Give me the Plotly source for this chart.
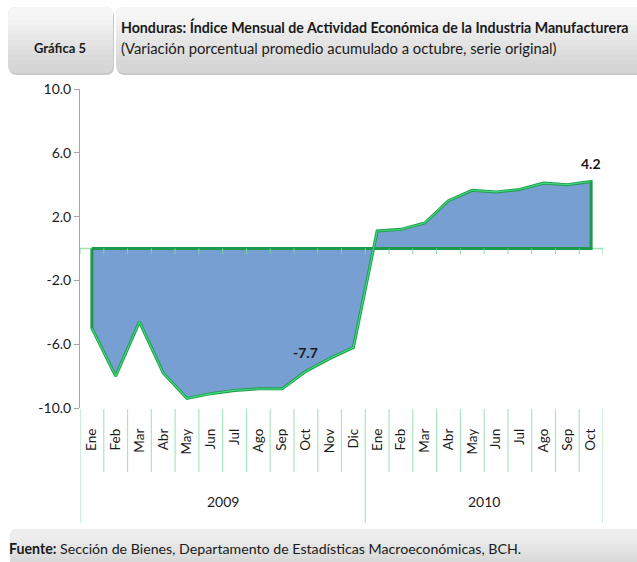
import plotly.graph_objects as go

# ---------------- data ----------------
months = ["Ene", "Feb", "Mar", "Abr", "May", "Jun", "Jul", "Ago", "Sep", "Oct", "Nov", "Dic",
          "Ene", "Feb", "Mar", "Abr", "May", "Jun", "Jul", "Ago", "Sep", "Oct"]
years = ["2009", "2010"]
months_per_year = [12, 10]
values = [-5.0, -8.0, -4.6, -7.8, -9.4, -9.1, -8.9, -8.8, -8.8, -7.7, -6.9, -6.2,
          1.1, 1.2, 1.6, 3.0, 3.65, 3.55, 3.7, 4.1, 4.0, 4.2]
y_ticks = [10, 6, 2, -2, -6, -10]
y_ticktext = ["10.0", "6.0", "2.0", "-2.0", "-6.0", "-10.0"]
labelled_points = [9, 21]  # indices with data labels

title1 = "Honduras: Índice Mensual de Actividad Económica de la Industria Manufacturera"
title2 = "(Variación porcentual promedio acumulado a octubre, serie original)"
badge = "Gráfica 5"
source_bold = "Fuente:"
source_text = " Sección de Bienes, Departamento de Estadísticas Macroeconómicas, BCH."

# ---------------- layout helpers ----------------
W, H = 637, 562
L, R, T, B = 80, 34, 89, 154
PW, PH = W - L - R, H - T - B


def X(px):
    return (px - L) / PW


def Y(py):
    return (H - B - py) / PH


FONT = "Lato, Liberation Sans, sans-serif"
TXT = "#1A1A1A"
xs = list(range(len(months)))
n = len(xs)

# polygon for area (data plus baseline closure)
poly_x = [xs[0]] + xs + [xs[-1], xs[0]]
poly_y = [0] + values + [0, 0]

fig = go.Figure()
fig.add_trace(go.Scatter(
    x=poly_x, y=poly_y, mode="lines", fill="toself",
    fillcolor="#789FD1",
    line=dict(color="#1E9A4C", width=3),
    hoverinfo="skip", showlegend=False))
fig.add_trace(go.Scatter(
    x=xs, y=values, mode="lines",
    line=dict(color="#3FDC7E", width=1.2),
    hoverinfo="skip", showlegend=False))

shapes = []
shapes.append(dict(type="line", xref="x", yref="y", x0=-0.5, x1=n - 0.5, y0=0, y1=0,
                   line=dict(color="#9BE3B5", width=1.5), layer="below"))
for i in range(n + 1):
    shapes.append(dict(type="line", xref="x", yref="y", x0=i - 0.5, x1=i - 0.5,
                       y0=0, y1=-0.35, line=dict(color="#7FD9A0", width=1)))

year_bounds = [0]
for m in months_per_year:
    year_bounds.append(year_bounds[-1] + m)
for i in range(n + 1):
    is_year = i in year_bounds
    shapes.append(dict(type="line", xref="x", yref="paper", x0=i - 0.5, x1=i - 0.5,
                       y0=Y(409), y1=Y(523 if is_year else 472),
                       line=dict(color="#A8E6BE", width=1.2)))


def rrect(x0, y0, x1, y1, r=8):
    rx, ry = r / PW, r / PH
    a, b, c, d = X(x0), Y(y1), X(x1), Y(y0)
    return (f"M {a+rx},{d} L {c-rx},{d} Q {c},{d} {c},{d-ry} L {c},{b+ry} Q {c},{b} {c-rx},{b} "
            f"L {a+rx},{b} Q {a},{b} {a},{b+ry} L {a},{d-ry} Q {a},{d} {a+rx},{d} Z")


def hx(c):
    return [int(c[i:i + 2], 16) for i in (1, 3, 5)]


def gradient_box(x0, y0, x1, y1, top="#F7F7F7", bottom="#D6D6D6", r=8, steps=10):
    out = []
    out.append(dict(type="path", xref="paper", yref="paper", path=rrect(x0 + 1, y0 + 2, x1 + 1, y1 + 2, r),
                    fillcolor="#C8C8C8", line=dict(width=0), layer="below"))
    out.append(dict(type="path", xref="paper", yref="paper", path=rrect(x0, y0, x1, y1, r),
                    fillcolor=bottom, line=dict(width=0), layer="below"))
    t, bt = hx(top), hx(bottom)
    out.append(dict(type="path", xref="paper", yref="paper",
                    path=rrect(x0, y0, x1, y0 + 2 * r, r),
                    fillcolor=top, line=dict(width=0), layer="below"))
    inner0, inner1 = y0 + r, y1 - r
    for k in range(steps):
        f = (k + 0.5) / steps
        col = "#%02X%02X%02X" % tuple(int(t[j] + (bt[j] - t[j]) * f) for j in range(3))
        a = inner0 + (inner1 - inner0) * k / steps
        b = inner0 + (inner1 - inner0) * (k + 1) / steps
        out.append(dict(type="rect", xref="paper", yref="paper",
                        x0=X(x0), x1=X(x1), y0=Y(b + 0.6), y1=Y(a),
                        fillcolor=col, line=dict(width=0), layer="below"))
    return out


shapes += gradient_box(8, 7, 113, 73)
shapes += gradient_box(116, 7, 660, 73)
shapes += gradient_box(10, 529, 660, 580, top="#EEEEEE", bottom="#D0D0D0", r=8)

annotations = []
annotations.append(dict(xref="paper", yref="paper", x=X(60), y=Y(48), text=f"<b>{badge}</b>",
                        showarrow=False, xanchor="center", yanchor="middle",
                        font=dict(family=FONT, size=13, color=TXT)))
annotations.append(dict(xref="paper", yref="paper", x=X(119), y=Y(27), text=f"<b>{title1}</b>",
                        showarrow=False, xanchor="left", yanchor="middle",
                        font=dict(family=FONT, size=14.2, color=TXT)))
annotations.append(dict(xref="paper", yref="paper", x=X(119), y=Y(48), text=title2,
                        showarrow=False, xanchor="left", yanchor="middle",
                        font=dict(family=FONT, size=14.8, color=TXT)))
annotations.append(dict(xref="paper", yref="paper", x=X(7), y=Y(548),
                        text=f"<b>{source_bold}</b>{source_text}",
                        showarrow=False, xanchor="left", yanchor="middle",
                        font=dict(family=FONT, size=14.2, color=TXT)))
for yi, yr in enumerate(years):
    center = (year_bounds[yi] + year_bounds[yi + 1] - 1) / 2
    annotations.append(dict(xref="x", yref="paper", x=center, y=Y(501), text=yr,
                            showarrow=False, xanchor="center", yanchor="middle",
                            font=dict(family=FONT, size=14, color=TXT)))
for idx in labelled_points:
    annotations.append(dict(xref="x", yref="y", x=xs[idx], y=values[idx],
                            text=f"<b>{values[idx]:.1f}</b>", showarrow=False,
                            xanchor="center", yanchor="bottom", yshift=8,
                            font=dict(family=FONT, size=14, color=TXT)))

fig.update_layout(
    width=W, height=H,
    margin=dict(l=L, r=R, t=T, b=B),
    paper_bgcolor="white", plot_bgcolor="white",
    shapes=shapes, annotations=annotations,
    xaxis=dict(range=[-0.5, n - 0.5], tickmode="array", tickvals=xs, ticktext=months,
               tickangle=-90, showline=False, showgrid=False, zeroline=False,
               ticks="", ticklabelstandoff=17,
               tickfont=dict(family=FONT, size=13.5, color=TXT)),
    yaxis=dict(range=[-10, 10], tickmode="array", tickvals=y_ticks, ticktext=y_ticktext,
               showline=True, linecolor="#A6A6A6", linewidth=1,
               ticks="outside", ticklen=5, tickcolor="#A6A6A6",
               showgrid=False, zeroline=False,
               tickfont=dict(family=FONT, size=14, color=TXT)),
)

fig.write_html("out.html", config={"displayModeBar": False},
               post_script="document.body.style.margin='0';document.body.style.overflow='hidden';")
